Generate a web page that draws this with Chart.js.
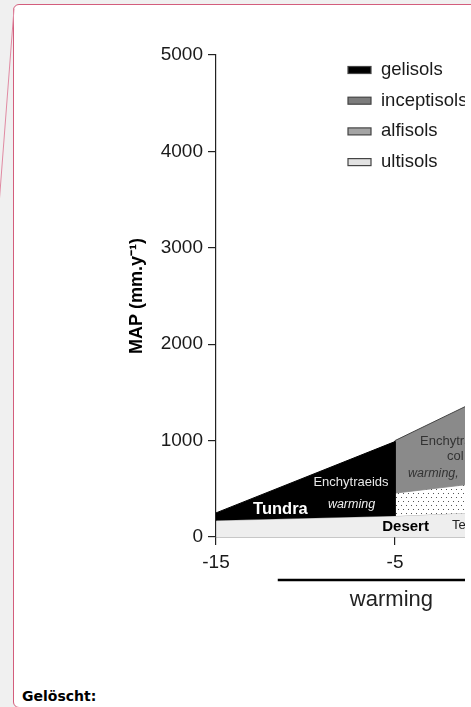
<!DOCTYPE html>
<html>
<head>
<meta charset="utf-8">
<script src="https://cdn.jsdelivr.net/npm/chart.js@4"></script>
<style>
html, body { margin:0; padding:0; width:471px; height:707px; overflow:hidden; background:#f0f0f0; }
#box { position:absolute; left:13px; top:4px; width:520px; height:702px; background:#fff; border:1px solid #d35d7c; border-radius:6px; }
#wrap { position:absolute; left:0; top:0; width:465px; height:650px; overflow:hidden; }
#note { position:absolute; left:22px; top:688px; font: bold 14px "DejaVu Sans", sans-serif; color:#000; }
#deco { position:absolute; left:0; top:0; }
</style>
</head>
<body>
<div id="box"></div>
<svg id="deco" width="30" height="260"><line x1="14" y1="9" x2="-1" y2="205" stroke="#e08aa2" stroke-width="1"/></svg>
<div id="wrap"><canvas id="myChart" width="600" height="650"></canvas></div>
<div id="note">Gelöscht:</div>
<script>
// polygon outlines (x = MAT in °C, y = MAP in mm/y)
const gelisolsX = [-15, -15, -5, -5];
const gelisolsY = [170, 250, 990, 218];
const inceptisolsX = [-5, -5, 0, 0];
const inceptisolsY = [455, 1000, 1450, 565];
const dottedX = [-5, -5, 0, 0];
const dottedY = [218, 455, 565, 258];
const ultisolsX = [-15, -15, -5, 0, 0];
const ultisolsY = [0, 170, 218, 258, 0];

const xTicks = [-15, -5, 5];
const yTicks = [0, 1000, 2000, 3000, 4000, 5000];

const legendLabels = ["gelisols", "inceptisols", "alfisols", "ultisols"];
const legendColors = ["#000000", "#7c7c7c", "#a4a4a4", "#e2e2e2"];

const annotations = [
    { text: "Tundra", x: -11.4, y: 290, font: "bold 16.5px 'Liberation Sans'", color: "#fff", align: "center" },
    { text: "Enchytraeids", x: -7.46, y: 570, font: "13px 'Liberation Sans'", color: "#e6e6e6", align: "center" },
    { text: "warming", x: -7.43, y: 332, font: "italic 12.5px 'Liberation Sans'", color: "#eee", align: "center" },
    { text: "Desert", x: -4.41, y: 104, font: "bold 15px 'Liberation Sans'", color: "#000", align: "center" },
    { text: "Te", x: -1.82, y: 124, font: "13px 'Liberation Sans'", color: "#222", align: "left" },
    { text: "Enchytraeids", x: -3.6, y: 996, font: "13px 'Liberation Sans'", color: "#333", align: "left" },
    { text: "col", x: -2.1, y: 840, font: "13px 'Liberation Sans'", color: "#333", align: "left" },
    { text: "warming,", x: -4.27, y: 654, font: "italic 12.5px 'Liberation Sans'", color: "#333", align: "left" }
];

function pts(xs, ys) {
    return xs.map((v, i) => ({ x: v, y: ys[i] }));
}

function dots() {
    let c = document.createElement("canvas");
    c.width = 10;
    c.height = 8;
    let g = c.getContext("2d");
    g.fillStyle = "#fff";
    g.fillRect(0, 0, 10, 8);
    g.fillStyle = "#555";
    [[1, 1], [6, 1], [3, 5], [8, 5]].forEach(p => g.fillRect(p[0], p[1], 1, 1));
    return g.createPattern(c, "repeat");
}

const overlay = {
    id: "overlay",
    afterDatasetsDraw(chart) {
        const { ctx, chartArea, scales: { x, y } } = chart;
        ctx.save();
        ctx.textBaseline = "middle";
        annotations.forEach(a => {
            ctx.font = a.font;
            ctx.fillStyle = a.color;
            ctx.textAlign = a.align;
            ctx.fillText(a.text, x.getPixelForValue(a.x), y.getPixelForValue(a.y));
        });

        // legend, top right inside the plot
        const lx = chartArea.left + 132;
        legendLabels.forEach((lab, i) => {
            let cy = chartArea.top + 15 + i * 30.7;
            ctx.fillStyle = legendColors[i];
            ctx.fillRect(lx, cy - 3.5, 23, 7);
            ctx.strokeStyle = "#444";
            ctx.lineWidth = 1.2;
            ctx.strokeRect(lx, cy - 3.5, 23, 7);
            ctx.fillStyle = "#1a1a1a";
            ctx.textAlign = "left";
            ctx.font = "18.5px 'Liberation Sans'";
            ctx.fillText(lab, lx + 33, cy);
        });

        // warming bar under the axis
        let by = chartArea.bottom + 43;
        ctx.strokeStyle = "#000";
        ctx.lineWidth = 2.5;
        ctx.beginPath();
        ctx.moveTo(x.getPixelForValue(-11.55), by);
        ctx.lineTo(chartArea.right, by);
        ctx.stroke();
        ctx.fillStyle = "#222";
        ctx.textAlign = "center";
        ctx.font = "22px 'Liberation Sans'";
        ctx.fillText("warming", x.getPixelForValue(-5.2), by + 20);
        ctx.restore();
    }
};

let ctx = document.getElementById("myChart");
new Chart(ctx, {
    type: "line",
    data: {
        datasets: [
            { label: "gelisols", data: pts(gelisolsX, gelisolsY), backgroundColor: "#000", borderColor: "#000", borderWidth: 1, fill: "shape" },
            { label: "inceptisols", data: pts(inceptisolsX, inceptisolsY), backgroundColor: "#8a8a8a", borderColor: "#444", borderWidth: 1, fill: "shape" },
            { label: "dotted", data: pts(dottedX, dottedY), backgroundColor: dots(), borderColor: "#666", borderWidth: 0.6, fill: "shape" },
            { label: "ultisols", data: pts(ultisolsX, ultisolsY), backgroundColor: "#eeeeee", borderColor: "#888", borderWidth: 0.6, fill: "shape" }
        ]
    },
    options: {
        responsive: false,
        animation: false,
        devicePixelRatio: 1,
        layout: { padding: { left: 122, top: 55, right: 26, bottom: 63 } },
        plugins: { legend: { display: false }, tooltip: { enabled: false } },
        elements: { point: { radius: 0 }, line: { tension: 0 } },
        scales: {
            x: {
                type: "linear",
                min: -15,
                max: 5,
                afterBuildTicks: s => { s.ticks = xTicks.map(v => ({ value: v })); },
                afterFit: s => { s.height = 50; },
                ticks: { font: { family: "'Liberation Sans'", size: 19 }, color: "#1a1a1a", padding: 6, maxRotation: 0, autoSkip: false, callback: v => String(v) },
                grid: { drawOnChartArea: false, tickLength: 8, color: "#222", lineWidth: 1.2 },
                border: { color: "#222", width: 1.2 }
            },
            y: {
                min: 0,
                max: 5000,
                afterBuildTicks: s => { s.ticks = yTicks.map(v => ({ value: v })); },
                afterFit: s => { s.width = 94; },
                ticks: { font: { family: "'Liberation Sans'", size: 19 }, color: "#1a1a1a", padding: 5, autoSkip: false, callback: v => String(v) },
                grid: { drawOnChartArea: false, tickLength: 8, color: "#222", lineWidth: 1.2 },
                border: { color: "#222", width: 1.2 },
                title: { display: true, text: "MAP (mm.y⁻¹)", color: "#000", font: { family: "'Liberation Sans'", size: 18, weight: "bold" }, padding: { top: 4, bottom: 0 } }
            }
        }
    },
    plugins: [overlay]
});
</script>
</body>
</html>
